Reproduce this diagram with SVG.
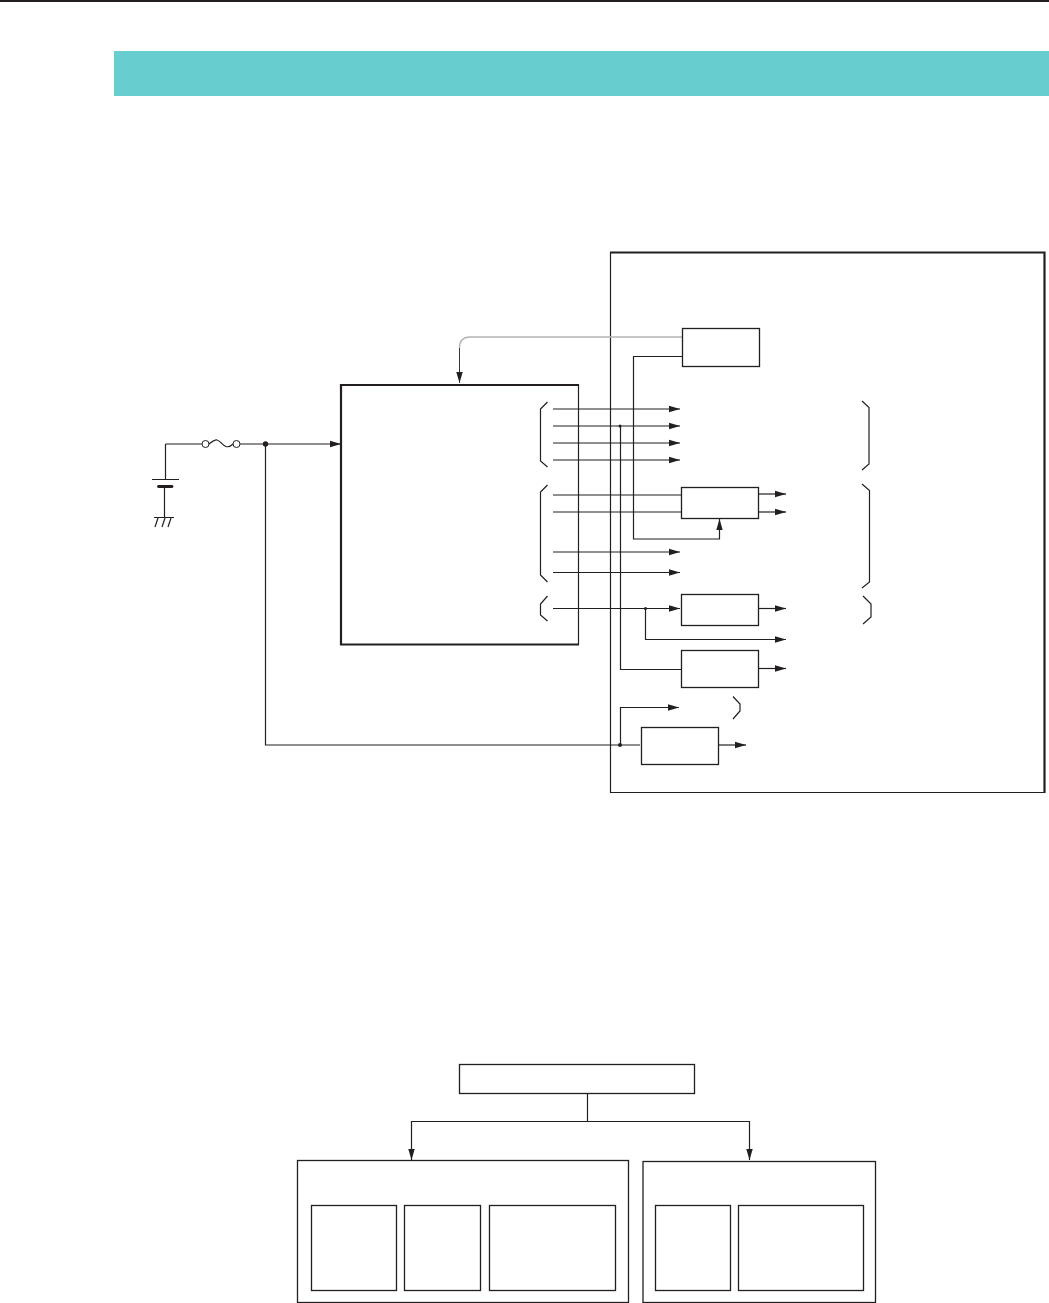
<svg xmlns="http://www.w3.org/2000/svg" width="1049" height="1303" viewBox="0 0 1049 1303">
<defs>
<marker id="a" markerUnits="userSpaceOnUse" markerWidth="11" markerHeight="8" refX="11" refY="4" orient="auto"><path d="M0 .8L11 4L0 7.2Z" fill="#231f20"/></marker>
</defs>
<style>
.n{fill:#fff;stroke:#231f20;stroke-width:1.3}
.l,.b{fill:none;stroke:#231f20;stroke-width:1.2}
.a{marker-end:url(#a)}
.t{stroke-width:2.2;fill:none;stroke:#231f20}
</style>
<rect width="1049" height="1303" fill="#fff"/>
<path d="M0 1H1049" stroke="#231f20" stroke-width="2"/>
<rect x="114" y="51" width="935" height="45" fill="#67cdcf"/>
<g id="ecu-frame"><path class="l" d="M610.500 252V792.500H1044.500" stroke-width="1.300"/><path class="t" d="M610 252.500H1044.500V793"/></g>
<g id="connectors">
<path d="M682 337H470Q459.500 337 459.500 348" fill="none" stroke="#b5b5b5" stroke-width="1.400"/>
<path d="M459.500 348V383" fill="none" stroke="#231f20" stroke-width=".9" marker-end="url(#a)"/>
<path class="l" d="M165.500 444H202"/>
<path class="l a" d="M240 444H341"/>
<circle cx="205.500" cy="444" r="3.500" fill="#fff" stroke="#231f20"/>
<circle cx="236.500" cy="444" r="3.500" fill="#fff" stroke="#231f20"/>
<path class="l" d="M209 444C213 441 215 439.500 217 440C220 440.500 222 445 226 446.500C229 447.500 231 446 233 444" stroke-width="2"/>
<circle cx="265.500" cy="444" r="2.700" fill="#231f20"/>
<path class="l" d="M165.500 444V479.500M152 479.500H179"/>
<path d="M158.500 486.500H172" stroke="#231f20" stroke-width="2.800" stroke-linecap="round"/>
<path class="l" d="M164.500 487V517.500M154 517.500H174M158 518L155 527M165 518L162 527M171 518L168 527"/>
<path class="l" d="M265.500 444V745H640"/>
<path class="l a" d="M553 409H680"/><path class="l a" d="M553 426H680"/><path class="l a" d="M553 443H680"/><path class="l a" d="M553 460H680"/>
<path class="l" d="M553 495H682M553 512H682"/>
<path class="l a" d="M553 552H680"/><path class="l a" d="M553 572.500H680"/>
<path class="l a" d="M553 608.500H680"/>
<path class="l a" d="M645.500 608V639.500H786"/>
<circle cx="645.500" cy="608.500" r="1.500" fill="#231f20"/>
<path class="l" d="M620.500 426V669.500H682"/>
<circle cx="620" cy="426" r="1.500" fill="#231f20"/>
<path class="l a" d="M682 356.500H633.500V539H719.500V519"/>
<path class="l a" d="M758 494H786"/><path class="l a" d="M758 512H786"/>
<path class="l a" d="M758 608.500H786"/>
<path class="l a" d="M758 668.500H786"/>
<path class="l a" d="M620.500 745V707.500H679"/>
<circle cx="620" cy="745" r="2" fill="#231f20"/>
<path class="l a" d="M718 745H746"/>
<path class="l" d="M587.500 1093V1121.500M411 1121.500H750"/>
<path class="l a" d="M411.500 1121V1160"/><path class="l a" d="M749.500 1121V1160"/>
</g>
<g id="braces">
<path class="b" d="M547.500 402L540.500 409V461L547.500 467"/>
<path class="b" d="M547.500 485L540.500 492V575L547.500 582"/>
<path class="b" d="M547.500 596L540.500 604V615L547.500 621"/>
<path class="b" d="M862 401L869 407.500V464L862 470"/>
<path class="b" d="M862 484L869.500 490.500V582L862 588"/>
<path class="b" d="M863 596L871 604V617L863 624"/>
<path class="b" d="M733 696.500L740 704V711L733 719"/>
</g>
<g id="controller"><path class="t" d="M578 385H341V644.500H579" stroke-width="2"/><path class="l" d="M578.500 384V645" stroke-width="1.300"/></g>
<g id="b1"><rect class="n" x="682.500" y="328.500" width="77" height="38"/></g>
<g id="b2"><rect class="n" x="681.500" y="487.500" width="77" height="31"/></g>
<g id="b3"><rect class="n" x="681.500" y="594.500" width="77" height="31"/></g>
<g id="b4"><rect class="n" x="681.500" y="650.500" width="77" height="37"/></g>
<g id="b5"><rect class="n" x="641.500" y="727.500" width="77" height="37"/></g>
<g id="top-box"><rect class="n" x="459.500" y="1064.500" width="235" height="29"/></g>
<g id="left-group"><rect class="n" x="297.500" y="1160.500" width="331" height="142"/>
<rect class="n" x="311.500" y="1205.500" width="85" height="85"/>
<rect class="n" x="404.500" y="1205.500" width="76" height="85"/>
<rect class="n" x="489.500" y="1205.500" width="126" height="85"/></g>
<g id="right-group"><rect class="n" x="643" y="1161.500" width="232.500" height="141"/>
<rect class="n" x="655.500" y="1205.500" width="75" height="85"/>
<rect class="n" x="738.500" y="1205.500" width="125" height="85"/></g>
</svg>
